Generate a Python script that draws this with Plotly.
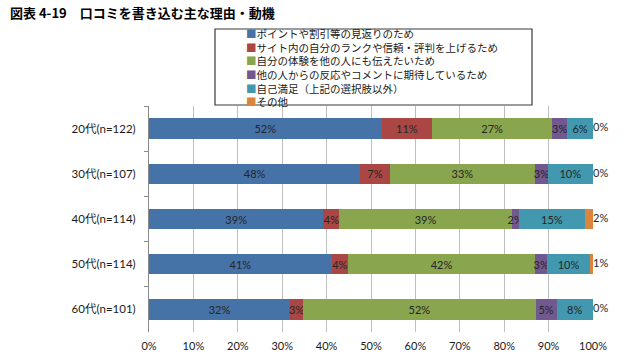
import plotly.graph_objects as go

categories = ["20代(n=122)", "30代(n=107)", "40代(n=114)", "50代(n=114)", "60代(n=101)"]
series_names = [
    "ポイントや割引等の見返りのため",
    "サイト内の自分のランクや信頼・評判を上げるため",
    "自分の体験を他の人にも伝えたいため",
    "他の人からの反応やコメントに期待しているため",
    "自己満足（上記の選択肢以外）",
    "その他",
]
points_discount = [52.4, 47.6, 39.3, 41.2, 31.8]
rank_reputation = [11.4, 6.6, 3.6, 3.6, 2.9]
share_experience = [27.0, 32.8, 38.8, 42.2, 52.4]
expect_reaction = [3.4, 2.8, 1.6, 2.7, 4.7]
self_satisfaction = [5.8, 10.2, 14.9, 9.6, 8.2]
other = [0.0, 0.0, 1.8, 0.7, 0.0]
x_tick_vals = [0, 10, 20, 30, 40, 50, 60, 70, 80, 90, 100]
x_tick_text = ["0%", "10%", "20%", "30%", "40%", "50%", "60%", "70%", "80%", "90%", "100%"]
title_text = "図表 4-19　口コミを書き込む主な理由・動機"

colors = ["#4572A7", "#AA4643", "#89A54E", "#71588F", "#4198AF", "#DB843D"]
series = [points_discount, rank_reputation, share_experience, expect_reaction, self_satisfaction, other]

W, H = 640, 359
PLOT_L, PLOT_R, PLOT_T, PLOT_B = 149, 593, 106, 332
ML, MT, MR, MB = PLOT_L, PLOT_T, W - PLOT_R, H - PLOT_B
PW, PH = PLOT_R - PLOT_L, PLOT_B - PLOT_T


def px(x):
    return (x - PLOT_L) / PW


def py(y):
    return (PLOT_B - y) / PH


LAT = "Lato, 'Noto Sans CJK JP', sans-serif"
JP = "'Noto Sans CJK JP', sans-serif"

fig = go.Figure()
for i, (name, vals) in enumerate(zip(series_names, series)):
    inside = i < len(series) - 1
    fig.add_trace(go.Bar(
        y=categories, x=vals, name=name, orientation="h",
        marker=dict(color=colors[i], line=dict(width=0)),
        text=[f"{v:.0f}%" for v in vals] if inside else None,
        textposition="inside" if inside else "none",
        insidetextanchor="middle",
        textangle=0,
        constraintext="none",
        insidetextfont=dict(family=LAT, size=11, color="#262626"),
        showlegend=False,
        hoverinfo="x+name",
    ))

# labels for the last series, placed just right of each stacked total
totals = [sum(s[k] for s in series) for k in range(len(categories))]
fig.add_trace(go.Scatter(
    y=categories, x=totals, mode="text",
    text=[f"{v:.0f}%" for v in other],
    textposition="middle right",
    textfont=dict(family=LAT, size=11, color="#262626"),
    showlegend=False, hoverinfo="skip", cliponaxis=False,
))

# legend box (drawn manually to match compact line spacing)
fig.add_shape(type="rect", xref="paper", yref="paper",
              x0=px(215), x1=px(532), y0=py(105), y1=py(29),
              line=dict(color="#3a3a3a", width=1.2), fillcolor="white", layer="above")
legend_lines = [f"<span style='color:{c}'>■</span>{n}" for c, n in zip(colors, series_names)]
fig.add_annotation(
    xref="paper", yref="paper", x=px(244), y=py(67), xanchor="left", yanchor="middle",
    align="left", text="<br>".join(legend_lines), showarrow=False,
    font=dict(family=JP, size=10.5, color="#1a1a1a"),
)

fig.update_layout(
    width=W, height=H,
    margin=dict(l=ML, r=MR, t=MT, b=MB, pad=0, autoexpand=False),
    barmode="stack", bargap=0.55,
    paper_bgcolor="white", plot_bgcolor="white",
    title=dict(text=f"<b>{title_text}</b>", xref="container", yref="container",
               x=10 / W, xanchor="left", y=1 - 13 / H, yanchor="middle",
               font=dict(family=JP, size=13, color="#000000")),
    font=dict(family=LAT, size=11, color="#1a1a1a"),
    xaxis=dict(range=[0, 100], tickvals=x_tick_vals, ticktext=x_tick_text,
               showgrid=True, gridcolor="#BEBEBE", gridwidth=1, zeroline=False,
               showline=False, ticks="", ticklabelstandoff=6, automargin=False,
               tickfont=dict(family=LAT, size=11, color="#1a1a1a"), fixedrange=True),
    yaxis=dict(autorange="reversed", showline=True, linecolor="#8a8a8a", linewidth=1,
               ticks="outside", ticklen=4, tickcolor="#8a8a8a", tickson="boundaries",
               showgrid=False, ticklabelstandoff=10, automargin=False,
               tickfont=dict(family=LAT, size=11.5, color="#1a1a1a")),
)

fig.write_html("out.html", config={"displayModeBar": False},
               post_script="document.body.style.margin='0';")
